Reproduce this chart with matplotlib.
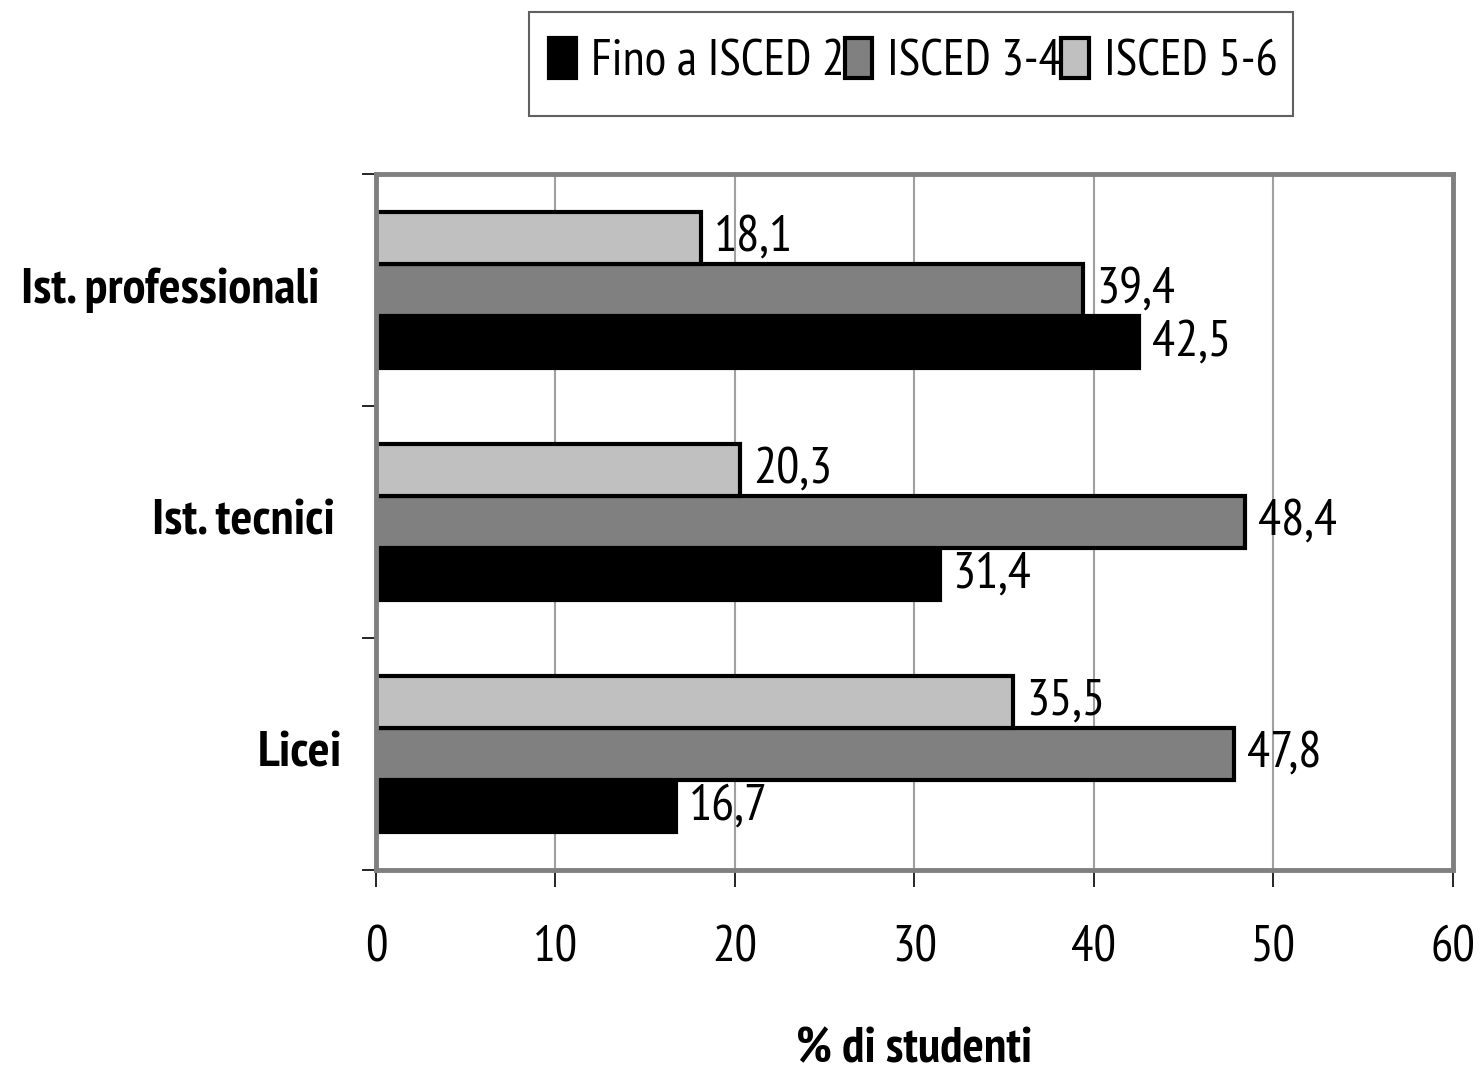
import matplotlib
matplotlib.use("Agg")
import matplotlib.pyplot as plt
import numpy as np
from matplotlib.transforms import blended_transform_factory, offset_copy
from matplotlib.patches import Patch, Rectangle

plt.rcParams['font.family'] = ['PT Sans Narrow', 'DejaVu Sans']

categories = ["Licei", "Ist. tecnici", "Ist. professionali"]
series_names = ["Fino a ISCED 2", "ISCED 3-4", "ISCED 5-6"]
fino_isced2 = [16.7, 31.4, 42.5]
isced34 = [47.8, 48.4, 39.4]
isced56 = [35.5, 20.3, 18.1]
xticks = [0, 10, 20, 30, 40, 50, 60]
xlabel = "% di studenti"

colors = ["#000000", "#808080", "#c0c0c0"]
values = [fino_isced2, isced34, isced56]

fig = plt.figure(figsize=(14.79, 10.75), dpi=100)
ax = fig.add_axes([0.2542, 0.1907, 0.7282, 0.6474])

y = np.arange(len(categories))
h = 0.225
offsets = [-h, 0, h]
for vals, col, off, name in zip(values, colors, offsets, series_names):
    ax.barh(y + off, vals, height=h, color=col, edgecolor="black",
            linewidth=3, label=name, zorder=3)
    for yy, v in zip(y + off, vals):
        ax.text(v, yy, f"{v:.1f}".replace(".", ","),
                transform=offset_copy(ax.transData, fig=fig, x=13, y=0, units='dots'),
                ha="left", va="center", fontsize=37, zorder=4)

ax.set_xlim(0, 60)
ax.set_ylim(-0.5, 2.5)
ax.set_xticks(xticks)
ax.set_xticklabels([str(t) for t in xticks], fontsize=36)
ax.tick_params(axis="x", length=12, width=1.2, pad=28, direction="out", color="black")
ax.set_yticks([-0.5, 0.5, 1.5, 2.5])
ax.set_yticklabels([])
ax.tick_params(axis="y", length=10, width=1.2, direction="out", color="black")
ax.grid(axis="x", color="#a0a0a0", linewidth=1.5, zorder=0)
for s in ax.spines.values():
    s.set_color("#808080")
    s.set_linewidth(3.5)
    s.set_zorder(5)

# category labels
trans = blended_transform_factory(ax.transAxes, ax.transData)
label_right = [-0.0316, -0.038, -0.052]
for yy, cat, xr in zip(y, categories, label_right):
    ax.text(xr, yy, cat, transform=trans, ha="right", va="center",
            fontsize=37, fontweight="bold")

ax.set_xlabel(xlabel, fontsize=36, fontweight="bold", labelpad=40)

# legend frame
fig.add_artist(Rectangle((0.3577, 0.8921), 0.5166, 0.0967, transform=fig.transFigure,
                         facecolor="white", edgecolor="#606060", linewidth=1.5))
handles = [Patch(facecolor=c, edgecolor="black", linewidth=3) for c in colors]
leg = fig.legend(handles, series_names, loc="center",
                 bbox_to_anchor=(0.6173, 0.9423), ncol=3, fontsize=36,
                 frameon=False,
                 handlelength=0.55, handleheight=0.85, handletextpad=0.3,
                 columnspacing=0.0, borderpad=0.2)

fig.savefig("out.png", dpi=100, facecolor="white")
